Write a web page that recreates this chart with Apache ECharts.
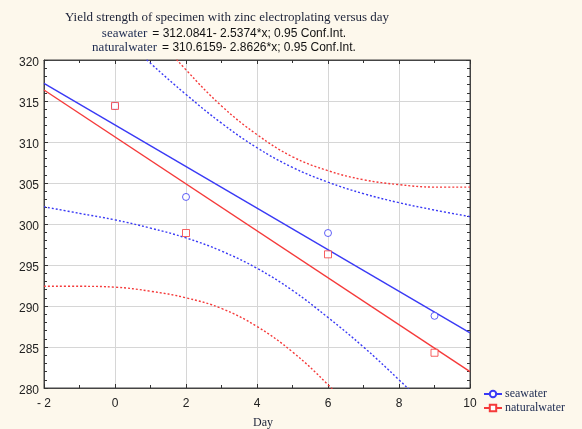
<!DOCTYPE html>
<html>
<head>
<meta charset="utf-8">
<script src="https://cdn.jsdelivr.net/npm/echarts@6/dist/echarts.min.js"></script>
<style>
html,body{margin:0;padding:0;background:#fdf8ec;}
#chart{width:582px;height:429px;}
</style>
</head>
<body>
<div id="chart"></div>
<script>
// ---- data ----
const days = [0, 2, 6, 9];
const seawater = [314.4, 303.3, 298.9, 288.8];
const naturalwater = [314.4, 298.9, 296.3, 284.3];

const fitX = [-2, 10];
const seaFit = [317.16, 286.71];
const natFit = [316.34, 281.99];

const bandX = [-2, -1, 0, 1, 2, 3, 4, 5, 6, 7, 8, 9, 10];
const seaUpper = [332.3, 327.9, 323.7, 319.6, 315.8, 312.3, 309.3, 306.9, 305.1, 303.7, 302.6, 301.7, 300.9];
const seaLower = [302.1, 301.3, 300.5, 299.5, 298.3, 296.7, 294.6, 291.9, 288.6, 285.0, 281.0, 276.8, 272.5];
const natUpper = [340.2, 334.5, 329.0, 323.7, 318.8, 314.4, 310.9, 308.2, 306.5, 305.4, 304.8, 304.5, 304.5];
const natLower = [292.4, 292.4, 292.3, 291.8, 291.0, 289.7, 287.5, 284.4, 280.4, 275.7, 270.6, 265.2, 259.5];

const xTickValues = [-2, 0, 2, 4, 6, 8, 10];
const xTickLabels = ['- 2', '0', '2', '4', '6', '8', '10'];
const yTickValues = [280, 285, 290, 295, 300, 305, 310, 315, 320];
const yTickLabels = ['280', '285', '290', '295', '300', '305', '310', '315', '320'];

const titleText = 'Yield strength of specimen with zinc electroplating versus day';
const seaEq = '= 312.0841- 2.5374*x; 0.95 Conf.Int.';
const natEq = '= 310.6159- 2.8626*x; 0.95 Conf.Int.';

// ---- chart ----
const BLUE = '#3a3af5';
const RED = '#f53a3a';
const pairs = (xs, ys) => xs.map((x, i) => [x, ys[i]]);

const chart = echarts.init(document.getElementById('chart'), null, {renderer: 'canvas'});
const axisLineStyle = {color: '#444', width: 1};
const tickStyle = {color: '#333'};
const option = {
  backgroundColor: '#fdf8ec',
  animation: false,
  title: [{
    text: titleText,
    left: 222, top: 6, textAlign: 'center',
    textStyle: {fontFamily: 'Liberation Serif', fontSize: 13, fontWeight: 'normal', color: '#1c2238'}
  }, {
    text: '{s|seawater} {a|' + seaEq + '}\n{s|naturalwater} {a|' + natEq + '}',
    left: 219, top: 22, textAlign: 'center',
    textStyle: {
      align: 'center', fontWeight: 'normal', lineHeight: 14,
      rich: {
        s: {fontFamily: 'Liberation Serif', fontSize: 13, fontWeight: 'normal', color: '#1c2a50', lineHeight: 14},
        a: {fontFamily: 'Liberation Sans', fontSize: 12, fontWeight: 'normal', color: '#111', lineHeight: 14}
      }
    }
  }, {
    text: 'Day', left: 258, top: 412, textAlign: 'center',
    textStyle: {fontFamily: 'Liberation Serif', fontSize: 12, fontWeight: 'normal', color: '#1c2238'}
  }],
  legend: {
    orient: 'vertical', left: 478, top: 383, itemGap: 2,
    itemWidth: 18, itemHeight: 8,
    textStyle: {fontFamily: 'Liberation Serif', fontSize: 12, color: '#1c2a50', padding: [0,0,0,-2]},
    data: ['seawater', 'naturalwater']
  },
  grid: {left: 44, top: 60, right: 112, bottom: 41, show: true, backgroundColor: '#ffffff', borderColor: '#444', borderWidth: 1},
  xAxis: [{
    type: 'value', min: -2, max: 10, interval: 2, position: 'bottom',
    axisLine: {show: true, onZero: false, lineStyle: axisLineStyle},
    axisTick: {show: true, inside: true, length: 4, lineStyle: tickStyle},
    minorTick: {show: true, splitNumber: 2, length: 3, lineStyle: tickStyle},
    splitLine: {show: true, lineStyle: {color: '#d6d6d6', width: 1}},
    axisLabel: {
      margin: 10, fontFamily: 'Liberation Sans', fontSize: 12, color: '#222',
      formatter: v => { const i = xTickValues.indexOf(v); return i >= 0 ? xTickLabels[i] : ''; }
    }
  }, {
    type: 'value', min: -2, max: 10, interval: 2, position: 'top',
    axisLine: {show: true, onZero: false, lineStyle: axisLineStyle},
    axisTick: {show: true, inside: true, length: 4, lineStyle: tickStyle},
    minorTick: {show: true, splitNumber: 2, length: 3, lineStyle: tickStyle},
    splitLine: {show: false}, axisLabel: {show: false}
  }],
  yAxis: [{
    type: 'value', min: 280, max: 320, interval: 5, position: 'left',
    axisLine: {show: true, onZero: false, lineStyle: axisLineStyle},
    axisTick: {show: true, inside: true, length: 4, lineStyle: tickStyle},
    minorTick: {show: true, splitNumber: 5, length: 3, lineStyle: tickStyle},
    splitLine: {show: true, lineStyle: {color: '#d6d6d6', width: 1}},
    axisLabel: {
      margin: 5, color: '#222',
      formatter: v => { const i = yTickValues.indexOf(v); return i >= 0 ? '{v|' + yTickLabels[i] + '}' : ''; },
      rich: {v: {fontFamily: 'Liberation Sans', fontSize: 12, color: '#222', padding: [6, 0, 0, 0]}}
    }
  }, {
    type: 'value', min: 280, max: 320, interval: 5, position: 'right',
    axisLine: {show: true, onZero: false, lineStyle: axisLineStyle},
    axisTick: {show: true, inside: true, length: 4, lineStyle: tickStyle},
    minorTick: {show: true, splitNumber: 5, length: 3, lineStyle: tickStyle},
    splitLine: {show: false}, axisLabel: {show: false}
  }],
  series: [
    {name: 'seawater', type: 'line', data: pairs(fitX, seaFit), symbol: 'circle', symbolSize: 7, showSymbol: false,
     itemStyle: {color: '#fff', borderColor: BLUE, borderWidth: 1}, lineStyle: {color: BLUE, width: 1.4}, z: 3, silent: true},
    {name: 'naturalwater', type: 'line', data: pairs(fitX, natFit), symbol: 'rect', symbolSize: 7, showSymbol: false,
     itemStyle: {color: '#fff', borderColor: RED, borderWidth: 1}, lineStyle: {color: RED, width: 1.4}, z: 3, silent: true},
    {name: 'seawater', type: 'line', data: pairs(bandX, seaUpper), smooth: 0.4, showSymbol: false,
     lineStyle: {color: BLUE, width: 1.4, type: [2, 2]}, z: 2},
    {name: 'seawater', type: 'line', data: pairs(bandX, seaLower), smooth: 0.4, showSymbol: false,
     lineStyle: {color: BLUE, width: 1.4, type: [2, 2]}, z: 2},
    {name: 'naturalwater', type: 'line', data: pairs(bandX, natUpper), smooth: 0.4, showSymbol: false,
     lineStyle: {color: RED, width: 1.4, type: [2, 2]}, z: 2},
    {name: 'naturalwater', type: 'line', data: pairs(bandX, natLower), smooth: 0.4, showSymbol: false,
     lineStyle: {color: RED, width: 1.4, type: [2, 2]}, z: 2},
    {name: 'seawater', type: 'scatter', data: pairs(days, seawater), symbol: 'circle', symbolSize: 7,
     itemStyle: {color: '#fff', borderColor: BLUE, borderWidth: 1}, z: 4},
    {name: 'naturalwater', type: 'scatter', data: pairs(days, naturalwater), symbol: 'rect', symbolSize: 7,
     itemStyle: {color: '#fff', borderColor: RED, borderWidth: 1}, z: 5}
  ]
};
chart.setOption(option);
</script>
</body>
</html>
